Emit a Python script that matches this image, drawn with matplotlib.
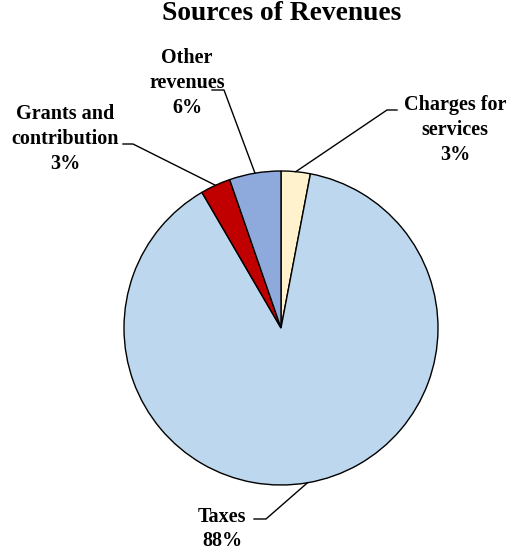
import numpy as np
import matplotlib.pyplot as plt

# slice order: clockwise from 12 o'clock
sources = ['Charges for\nservices', 'Taxes', 'Grants and\ncontribution', 'Other\nrevenues']
shares = [3.0, 88.6, 3.1, 5.3]
pct_labels = ['3%', '88%', '3%', '6%']
colors = ['#FFF2CC', '#BDD7EE', '#C00000', '#8EA9DB']

W, H = 508, 553
fig = plt.figure(figsize=(W / 100, H / 100), dpi=100)
ax = fig.add_axes([0, 0, 1, 1])

cx, cy, R = 281, H - 328, 157
wedges, _ = ax.pie(shares, colors=colors, startangle=90, counterclock=False,
                   center=(cx, cy), radius=R, frame=True,
                   wedgeprops=dict(edgecolor='black', linewidth=1.0))
ax.set_xlim(0, W)
ax.set_ylim(0, H)
ax.axis('off')

font = dict(family='Liberation Serif', weight='bold', fontsize=14.5)

# text centre (x, y from top), horizontal leader segment (x0, x1, y from top)
text_pos = [(455, 130), (222, 529), (65, 139), (187, 83)]
leaders = [(397, 387, 110), (254, 266, 519), (123, 133, 144), (212, 224, 90)]

for w, name, pct, (tx, ty), (x0, x1, ly) in zip(wedges, sources, pct_labels, text_pos, leaders):
    mid = np.deg2rad((w.theta1 + w.theta2) / 2)
    px, py = cx + R * np.cos(mid), cy + R * np.sin(mid)
    ax.text(tx, H - ty, name + '\n' + pct, ha='center', va='center',
            linespacing=1.33, **font)
    ax.plot([x0, x1, px], [H - ly, H - ly, py], color='black', lw=1.0)

ax.text(282, H - 13, 'Sources of Revenues', ha='center', va='center',
        family='Liberation Serif', weight='bold', fontsize=19.8)

fig.savefig('out.png', dpi=100)
